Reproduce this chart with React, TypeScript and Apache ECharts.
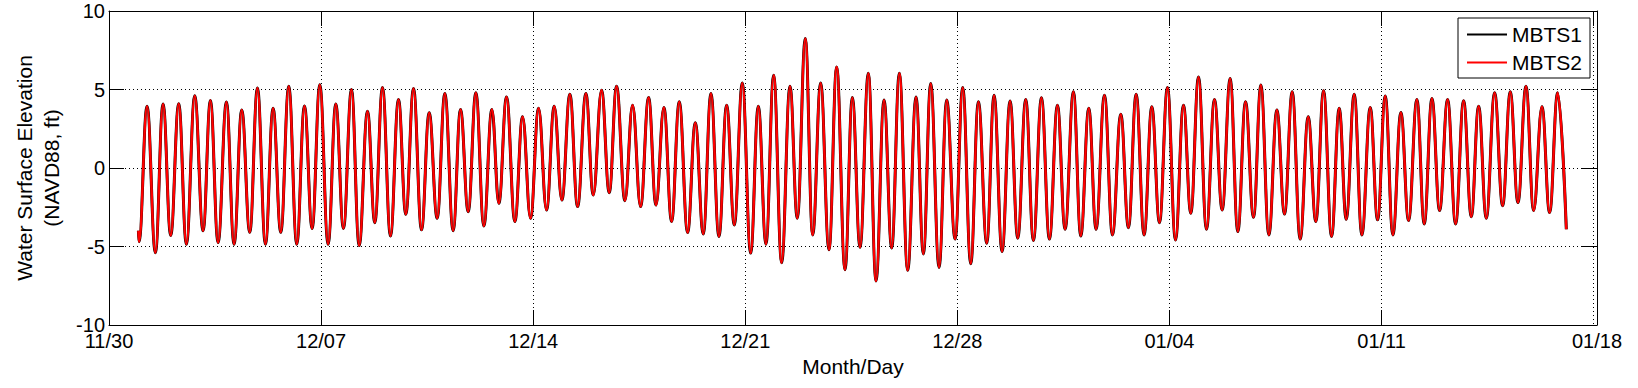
import React, { useEffect, useRef } from "react";
import * as echarts from "echarts";

// Tick labels (Month/Day), one every 7 days starting 11/30
const tickLabels = ["11/30", "12/07", "12/14", "12/21", "12/28", "01/04", "01/11", "01/18"];
const yTicks = [-10, -5, 0, 5, 10];
const seriesNames = ["MBTS1", "MBTS2"];

// Times of tidal highs/lows, in days after 11/30 00:00
const tideDays = [
  0.97, 0.99,
  1.256, 1.531, 1.784, 2.037, 2.301, 2.554, 2.83, 3.105, 3.347, 3.6, 3.875, 4.128, 4.381, 4.646, 4.899, 5.163, 5.416, 5.669, 5.933, 6.197, 6.451, 6.704, 6.957, 7.232, 7.485, 7.738,
  8.002, 8.256, 8.531, 8.773, 9.026, 9.29, 9.554, 9.796, 10.05, 10.314, 10.567, 10.831, 11.084, 11.359, 11.601, 11.855, 12.108, 12.372, 12.636, 12.867, 13.12, 13.395, 13.649, 13.913, 14.177, 14.441, 14.694, 14.947, 15.211, 15.465, 15.739,
  15.982, 16.257, 16.51, 16.752, 17.027, 17.28, 17.545, 17.809, 18.051, 18.315, 18.568, 18.821, 19.096, 19.35, 19.614, 19.867, 20.131, 20.384, 20.638, 20.902, 21.177, 21.43, 21.683, 21.936, 22.2, 22.475, 22.717, 22.981, 23.224, 23.488, 23.763, 24.016, 24.291,
  24.533, 24.787, 25.061, 25.315, 25.579, 25.832, 26.085, 26.36, 26.635, 26.878, 27.12, 27.395, 27.648, 27.924, 28.176, 28.441, 28.694, 28.969, 29.211, 29.475, 29.739, 29.993, 30.256, 30.51, 30.774, 31.038, 31.302, 31.555, 31.83, 32.072, 32.337, 32.578,
  32.854, 33.118, 33.393, 33.646, 33.9, 34.163, 34.416, 34.67, 34.934, 35.198, 35.462, 35.704, 35.958, 36.221, 36.485, 36.739, 37.003, 37.256, 37.509, 37.774, 38.016, 38.28, 38.544, 38.797, 39.05, 39.314, 39.578, 39.831, 40.085, 40.349, 40.602,
  40.833, 41.097, 41.35, 41.626, 41.868, 42.121, 42.374, 42.638, 42.891, 43.166, 43.408, 43.662, 43.915, 44.179, 44.443, 44.707, 44.961, 45.203, 45.456, 45.731, 45.995, 46.248, 46.501, 46.766, 47.018, 47.294, 47.546, 47.811, 48.097,
];

// MBTS2 water surface elevation at those highs/lows (ft, NAVD88)
const mbts2Feet = [
  -4.0, -4.7,
  3.94, -5.4, 4.07, -4.3, 4.1, -4.85, 4.6, -4.0, 4.3, -4.75, 4.2, -4.85, 3.7, -4.1, 5.1, -4.85, 3.8, -4.1, 5.2, -4.85, 3.95, -3.85, 5.3, -4.85, 4.07, -3.85,
  5.0, -4.94, 3.62, -3.48, 5.13, -4.33, 4.36, -2.95, 5.07, -3.94, 3.52, -3.2, 4.75, -3.99, 3.73, -2.78, 4.8, -3.69, 3.73, -2.25, 4.53, -3.41, 3.27, -3.2, 3.8, -2.67, 3.94, -2.04, 4.7, -2.46, 4.75,
  -1.72, 4.96, -1.57, 5.21, -2.08, 4.0, -2.46, 4.49, -2.36, 3.86, -3.41, 4.22, -4.11, 2.89, -4.2, 4.75, -4.36, 4.0, -3.63, 5.42, -5.42, 3.94, -4.85, 5.91, -6.03, 5.21, -3.2, 8.25, -4.26, 5.42, -5.21, 6.44, -6.48,
  4.49, -5.05, 6.03, -7.2, 4.33, -5.1, 6.03, -6.52, 4.53, -5.47, 5.38, -6.33, 4.33, -4.53, 5.13, -6.1, 4.22, -4.79, 4.64, -5.32, 4.26, -4.47, 4.36, -4.62, 4.47, -4.53, 4.0, -3.9, 4.85, -4.33, 3.8, -3.9,
  4.64, -4.26, 3.43, -3.8, 4.7, -4.26, 3.9, -3.48, 5.13, -4.58, 4.0, -2.88, 5.8, -3.9, 4.36, -2.67, 5.7, -4.05, 4.22, -3.14, 5.28, -4.26, 3.69, -2.93, 4.85, -4.53, 3.27, -3.41, 4.92, -4.36, 3.8,
  -3.27, 4.7, -4.26, 3.86, -3.3, 4.58, -4.26, 3.54, -3.35, 4.36, -3.56, 4.43, -2.71, 4.36, -3.56, 4.28, -3.1, 3.94, -3.2, 4.8, -2.4, 4.85, -2.2, 5.21, -2.71, 3.9, -2.84, 4.8, -3.9,
];

// MBTS1 lies directly under MBTS2 in the picture (indistinguishable)
const mbts1Feet = mbts2Feet.slice();

const X_MAX = 49.11;
const FONT = "'Liberation Sans', Arial, Helvetica, sans-serif";

function zip(xs: number[], ys: number[]) {
  const n = Math.min(xs.length, ys.length);
  const out: [number, number][] = [];
  for (let i = 0; i < n; i++) out.push([xs[i], ys[i]]);
  return out;
}

export default function App() {
  const ref = useRef<HTMLDivElement>(null);

  useEffect(() => {
    if (!ref.current) return;
    const chart = echarts.init(ref.current, null, { renderer: "svg" });

    const dotted = { show: true, lineStyle: { color: "#000", width: 1, type: [1, 3] as any } };
    const axisLine = { show: true, onZero: false, lineStyle: { color: "#000", width: 1 } };
    const tick = { show: true, inside: true, length: 15, lineStyle: { color: "#000", width: 1 } };

    chart.setOption({
      animation: false,
      backgroundColor: "#fff",
      textStyle: { fontFamily: FONT },
      grid: { left: 109, top: 11, right: 41, bottom: 63, containLabel: false },
      legend: {
        orient: "vertical",
        left: 1458,
        top: 18,
        padding: [6, 8, 5, 9],
        icon: "rect",
        itemWidth: 40,
        itemHeight: 2,
        itemGap: 7,
        backgroundColor: "#fff",
        borderColor: "#000",
        borderWidth: 1,
        borderRadius: 0,
        data: seriesNames,
        textStyle: { fontFamily: FONT, fontSize: 21, color: "#000" },
      },
      xAxis: [
        {
          type: "value",
          min: 0,
          max: X_MAX,
          interval: 7,
          name: "Month/Day",
          nameLocation: "middle",
          nameGap: 28,
          nameTextStyle: { fontFamily: FONT, fontSize: 21, color: "#000" },
          axisLine,
          axisTick: tick,
          splitLine: dotted,
          axisLabel: {
            margin: 6,
            fontFamily: FONT,
            fontSize: 20,
            color: "#000",
            showMaxLabel: true,
            formatter: (v: number) => tickLabels[Math.round(v / 7)] ?? "",
          },
        },
        {
          type: "value",
          position: "top",
          min: 0,
          max: X_MAX,
          interval: 7,
          axisLine,
          axisTick: tick,
          splitLine: { show: false },
          axisLabel: { show: false },
        },
      ],
      yAxis: [
        {
          type: "value",
          min: yTicks[0],
          max: yTicks[yTicks.length - 1],
          interval: 5,
          name: "Water Surface Elevation\n(NAVD88, ft)",
          nameLocation: "middle",
          nameGap: 37,
          nameTextStyle: { fontFamily: FONT, fontSize: 21, lineHeight: 27, color: "#000" },
          axisLine,
          axisTick: tick,
          splitLine: dotted,
          axisLabel: { margin: 4, fontFamily: FONT, fontSize: 20, color: "#000" },
        },
        {
          type: "value",
          position: "right",
          min: yTicks[0],
          max: yTicks[yTicks.length - 1],
          interval: 5,
          axisLine,
          axisTick: tick,
          splitLine: { show: false },
          axisLabel: { show: false },
        },
      ],
      series: [
        {
          name: seriesNames[0],
          type: "line",
          xAxisIndex: 0,
          yAxisIndex: 0,
          symbol: "none",
          smooth: 0.4,
          smoothMonotone: "x",
          lineStyle: { color: "#000", width: 3 },
          itemStyle: { color: "#000" },
          data: zip(tideDays, mbts1Feet),
        },
        {
          name: seriesNames[1],
          type: "line",
          xAxisIndex: 0,
          yAxisIndex: 0,
          symbol: "none",
          smooth: 0.4,
          smoothMonotone: "x",
          lineStyle: { color: "#ff0000", width: 2.5 },
          itemStyle: { color: "#ff0000" },
          data: zip(tideDays, mbts2Feet),
        },
      ],
    });

    return () => chart.dispose();
  }, []);

  return (
    <div
      ref={ref}
      style={{ position: "absolute", left: 0, top: 0, width: 1638, height: 388, background: "#fff" }}
    />
  );
}
